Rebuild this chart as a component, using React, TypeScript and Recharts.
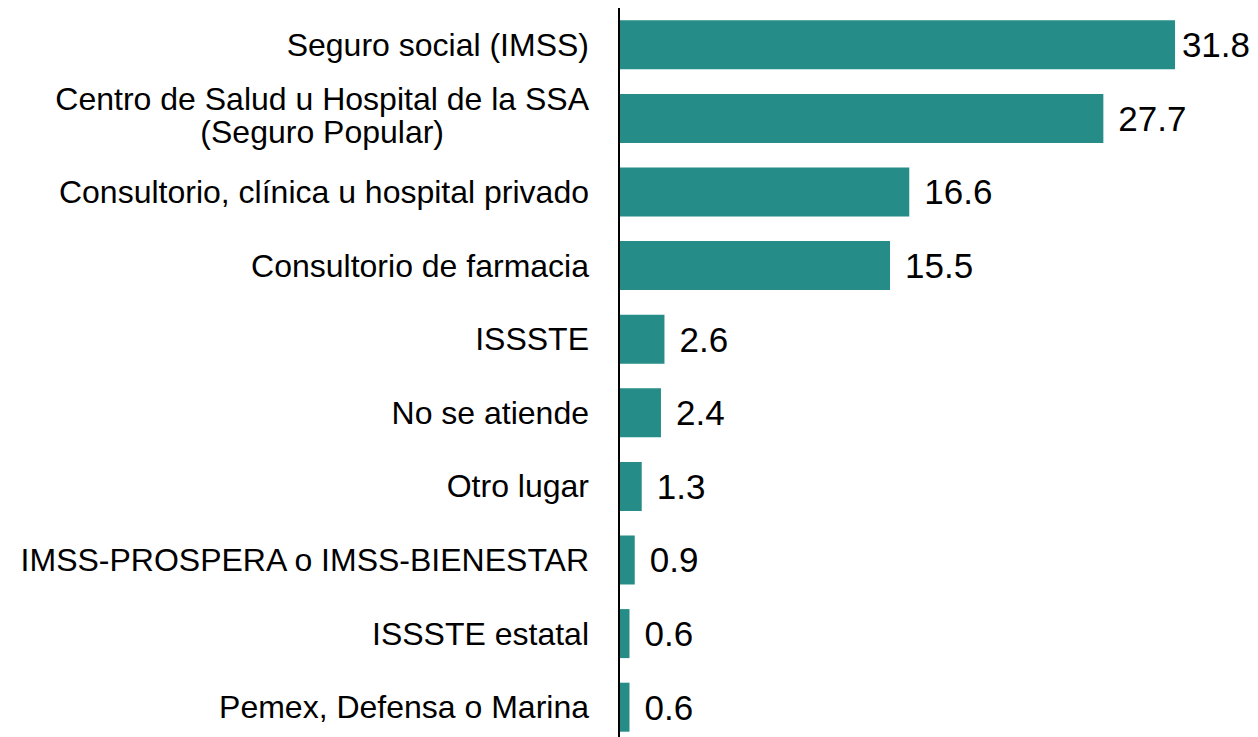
import React from "react";
import { BarChart, Bar, XAxis, YAxis, LabelList } from "recharts";

const categories: string[] = [
  "Seguro social (IMSS)",
  "Centro de Salud u Hospital de la SSA\n(Seguro Popular)",
  "Consultorio, clínica u hospital privado",
  "Consultorio de farmacia",
  "ISSSTE",
  "No se atiende",
  "Otro lugar",
  "IMSS-PROSPERA o IMSS-BIENESTAR",
  "ISSSTE estatal",
  "Pemex, Defensa o Marina",
];

const values: number[] = [31.8, 27.7, 16.6, 15.5, 2.6, 2.4, 1.3, 0.9, 0.6, 0.6];

const data = categories.map((name, i) => ({ name, value: values[i] }));

const FONT = "'Liberation Sans', Arial, sans-serif";
const TICK_SIZE = 32;
const VALUE_SIZE = 35;
const CHART_W = 1250;
const CHART_H = 736;

let ctx: CanvasRenderingContext2D | null = null;
function measure(text: string, size: number): number {
  if (!ctx) {
    const c = document.createElement("canvas");
    ctx = c.getContext("2d");
  }
  if (!ctx) return text.length * size * 0.5;
  ctx.font = `${size}px 'Liberation Sans', Arial, sans-serif`;
  return ctx.measureText(text).width;
}

const CategoryTick = (props: any) => {
  const { x, y, payload } = props;
  const lines: string[] = String(payload.value).split("\n");
  const n = lines.length;
  const maxW = Math.max(...lines.map((l) => measure(l, TICK_SIZE)));
  const lineH = 33;
  return (
    <g>
      {lines.map((l, i) => (
        <text
          key={i}
          x={n > 1 ? x - maxW / 2 : x}
          y={y + 11 - (n - 1) * 19.5 + i * lineH}
          textAnchor={n > 1 ? "middle" : "end"}
          fontSize={TICK_SIZE}
          fontFamily={FONT}
          fill="#000"
        >
          {l}
        </text>
      ))}
    </g>
  );
};

const ValueLabel = (props: any) => {
  const { x, y, width, height, value } = props;
  const txt = Number(value).toFixed(1);
  const tw = measure(txt, VALUE_SIZE);
  let tx = x + width + 15;
  const limit = CHART_W - 8 - tw;
  if (tx > limit) tx = Math.max(x + width + 3, limit);
  return (
    <text
      x={tx}
      y={y + height / 2 + 12.5}
      fontSize={VALUE_SIZE}
      fontFamily={FONT}
      fill="#000"
    >
      {txt}
    </text>
  );
};

export default function App() {
  return (
    <BarChart
      width={CHART_W}
      height={CHART_H}
      data={data}
      layout="vertical"
      margin={{ top: 0, right: 27, bottom: 0, left: 0 }}
      barCategoryGap="16.7%"
    >
      <XAxis type="number" domain={[0, 35]} hide />
      <YAxis
        type="category"
        dataKey="name"
        width={611}
        axisLine={{ stroke: "#000", strokeWidth: 2 }}
        tickLine={false}
        tickSize={0}
        tickMargin={30}
        interval={0}
        tick={<CategoryTick />}
      />
      <Bar dataKey="value" fill="#258C87" isAnimationActive={false}>
        <LabelList dataKey="value" content={<ValueLabel />} />
      </Bar>
    </BarChart>
  );
}
